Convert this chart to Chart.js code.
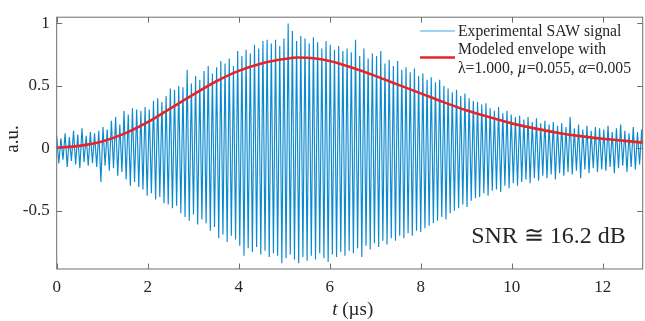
<!DOCTYPE html>
<html>
<head>
<meta charset="utf-8">
<script src="https://cdn.jsdelivr.net/npm/chart.js@4.4.1/dist/chart.umd.min.js"></script>
<style>
  body { margin: 0; background: #fff; }
  #wrap { width: 645px; height: 321px; }
</style>
</head>
<body>
<div id="wrap"><canvas id="myChart" width="645" height="321"></canvas></div>
<script>
// carrier period in µs
const period = 0.0925;

// positive and negative peak of every carrier cycle (a.u.)
const upperPeaks = [
    0.10, 0.08, 0.12, 0.09, 0.14, 0.11, 0.16, 0.10, 0.13, 0.12,
    0.14, 0.17, 0.15, 0.22, 0.25, 0.19, 0.30, 0.27, 0.32, 0.31,
    0.30, 0.33, 0.31, 0.38, 0.40, 0.37, 0.42, 0.48, 0.47, 0.50,
    0.49, 0.63, 0.52, 0.58, 0.55, 0.62, 0.66, 0.60, 0.65, 0.70,
    0.68, 0.72, 0.66, 0.78, 0.74, 0.79, 0.76, 0.83, 0.80, 0.86,
    0.87, 0.84, 0.87, 0.82, 0.88, 1.00, 0.94, 0.86, 0.90, 0.88,
    0.84, 0.89, 0.85, 0.80, 0.86, 0.83, 0.79, 0.82, 0.78, 0.80,
    0.77, 0.87, 0.74, 0.80, 0.72, 0.76, 0.74, 0.78, 0.68, 0.71,
    0.66, 0.70, 0.63, 0.65, 0.61, 0.64, 0.58, 0.60, 0.55, 0.57,
    0.53, 0.55, 0.50, 0.48, 0.45, 0.47, 0.42, 0.44, 0.40, 0.38,
    0.37, 0.35, 0.36, 0.32, 0.30, 0.33, 0.28, 0.30, 0.27, 0.25,
    0.26, 0.23, 0.25, 0.21, 0.24, 0.20, 0.22, 0.19, 0.21, 0.18,
    0.20, 0.17, 0.25, 0.16, 0.19, 0.15, 0.18, 0.14, 0.17, 0.16,
    0.15, 0.18, 0.13, 0.16, 0.19, 0.14, 0.12, 0.17, 0.13, 0.15
];
const lowerPeaks = [
    -0.12, -0.09, -0.15, -0.10, -0.13, -0.16, -0.11, -0.14, -0.12, -0.15,
    -0.27, -0.14, -0.18, -0.16, -0.22, -0.19, -0.25, -0.30, -0.27, -0.31,
    -0.33, -0.38, -0.36, -0.41, -0.39, -0.44, -0.45, -0.48, -0.46, -0.52,
    -0.55, -0.58, -0.53, -0.61, -0.57, -0.60, -0.66, -0.63, -0.72, -0.69,
    -0.75, -0.70, -0.73, -0.78, -0.86, -0.80, -0.83, -0.79, -0.85, -0.82,
    -0.87, -0.84, -0.86, -0.92, -0.88, -0.85, -0.89, -0.92, -0.87, -0.90,
    -0.86, -0.89, -0.84, -0.88, -0.91, -0.85, -0.87, -0.83, -0.86, -0.82,
    -0.84, -0.80, -0.87, -0.78, -0.81, -0.76, -0.79, -0.74, -0.77, -0.72,
    -0.74, -0.70, -0.72, -0.68, -0.70, -0.66, -0.67, -0.64, -0.62, -0.60,
    -0.58, -0.55, -0.57, -0.52, -0.50, -0.48, -0.45, -0.47, -0.42, -0.40,
    -0.39, -0.36, -0.38, -0.34, -0.33, -0.35, -0.30, -0.32, -0.28, -0.30,
    -0.27, -0.25, -0.28, -0.24, -0.26, -0.22, -0.24, -0.21, -0.25, -0.20,
    -0.22, -0.19, -0.21, -0.18, -0.24, -0.17, -0.20, -0.16, -0.19, -0.17,
    -0.18, -0.15, -0.20, -0.16, -0.14, -0.19, -0.15, -0.17, -0.13, -0.16
];

// modeled envelope (red)
const envTime = [0, 0.5, 1, 1.5, 2, 2.5, 3, 3.5, 4, 4.5, 5, 5.3, 5.5, 6, 6.5, 7, 7.5, 8, 8.5, 9, 9.5, 10, 10.5, 11, 11.5, 12, 12.5, 12.9];
const envelope = [0.005, 0.02, 0.055, 0.12, 0.21, 0.32, 0.43, 0.535, 0.62, 0.68, 0.715, 0.727, 0.725, 0.70, 0.645, 0.58, 0.51, 0.44, 0.37, 0.305, 0.25, 0.20, 0.16, 0.125, 0.098, 0.077, 0.06, 0.045];

const xTicks = [0, 2, 4, 6, 8, 10, 12];
const yTicks = [-0.5, 0, 0.5, 1];
const yTickLabels = ['-0.5', '0', '0.5', '1'];

const serif = '"Liberation Serif", "Times New Roman", serif';
const textColor = '#262626';

// zigzag przez kolejne maksima i minima
const signalPoints = [];
upperPeaks.forEach(function(v, i) {
    signalPoints.push({ x: i * period, y: v });
    signalPoints.push({ x: (i + 0.5) * period, y: lowerPeaks[i] });
});
const envPoints = envTime.map((t, i) => ({ x: t, y: envelope[i] }));

const framePlugin = {
    id: 'frame',
    afterDraw(chart) {
        const ctx = chart.ctx;
        const a = chart.chartArea;
        const xs = chart.scales.x, ys = chart.scales.y;
        ctx.save();
        ctx.strokeStyle = 'rgb(110,110,110)';
        ctx.lineWidth = 1;
        ctx.strokeRect(a.left, a.top, a.right - a.left, a.bottom - a.top);
        const tl = 5.5;
        ctx.beginPath();
        xTicks.forEach(function(v) {
            const px = Math.round(xs.getPixelForValue(v)) + 0.5;
            ctx.moveTo(px, a.bottom); ctx.lineTo(px, a.bottom - tl);
            ctx.moveTo(px, a.top); ctx.lineTo(px, a.top + tl);
        });
        yTicks.forEach(function(v) {
            const py = Math.round(ys.getPixelForValue(v)) + 0.5;
            ctx.moveTo(a.left, py); ctx.lineTo(a.left + tl, py);
            ctx.moveTo(a.right, py); ctx.lineTo(a.right - tl, py);
        });
        ctx.stroke();

        // axis titles
        ctx.fillStyle = textColor;
        ctx.textBaseline = 'middle';
        ctx.font = 'italic 19px ' + serif;
        const tW = ctx.measureText('t').width;
        ctx.font = '19px ' + serif;
        const restW = ctx.measureText(' (µs)').width;
        let x0 = (a.left + a.right) / 2 + 3 - (tW + restW) / 2;
        ctx.textAlign = 'left';
        ctx.font = 'italic 19px ' + serif;
        ctx.fillText('t', x0, 310);
        ctx.font = '19px ' + serif;
        ctx.fillText(' (µs)', x0 + tW, 310);

        ctx.save();
        ctx.translate(13, 139);
        ctx.rotate(-Math.PI / 2);
        ctx.textAlign = 'center';
        ctx.fillText('a.u.', 0, 0);
        ctx.restore();

        // legend
        ctx.lineWidth = 1.5;
        ctx.strokeStyle = 'rgb(125,200,240)';
        ctx.beginPath(); ctx.moveTo(420, 31); ctx.lineTo(455, 31); ctx.stroke();
        ctx.lineWidth = 2.6;
        ctx.strokeStyle = 'rgb(232,36,36)';
        ctx.beginPath(); ctx.moveTo(420, 57.5); ctx.lineTo(455, 57.5); ctx.stroke();

        ctx.textAlign = 'left';
        ctx.font = '15.7px ' + serif;
        ctx.fillText('Experimental SAW signal', 458, 31.5);
        ctx.fillText('Modeled envelope with', 458, 50);
        const parts = [['λ=1.000, ', false], ['µ', true], ['=0.055, ', false], ['α', true], ['=0.005', false]];
        let px = 458;
        parts.forEach(function(p) {
            ctx.font = (p[1] ? 'italic ' : '') + '15.7px ' + serif;
            ctx.fillText(p[0], px, 68.5);
            px += ctx.measureText(p[0]).width;
        });

        ctx.font = '24px ' + serif;
        ctx.textAlign = 'center';
        ctx.fillText('SNR ≅ 16.2 dB', 548.5, 237);
        ctx.restore();
    }
};

const ctx = document.getElementById('myChart').getContext('2d');
const myChart = new Chart(ctx, {
    type: 'line',
    data: {
        datasets: [{
            label: 'Modeled envelope',
            data: envPoints,
            borderColor: 'rgb(232,36,36)',
            borderWidth: 2.6,
            pointRadius: 0,
            cubicInterpolationMode: 'monotone',
            fill: false
        }, {
            label: 'Experimental SAW signal',
            data: signalPoints,
            borderColor: 'rgb(12,138,208)',
            borderWidth: 1.15,
            borderJoinStyle: 'bevel',
            pointRadius: 0,
            tension: 0,
            fill: false
        }]
    },
    options: {
        responsive: false,
        animation: false,
        devicePixelRatio: 1,
        layout: { padding: { top: 10.3, right: 2.3, left: 0, bottom: 0 } },
        plugins: { legend: { display: false }, tooltip: { enabled: false } },
        scales: {
            x: {
                type: 'linear',
                min: 0,
                max: 12.88,
                grid: { display: false, drawTicks: false },
                border: { display: false },
                afterBuildTicks: function(scale) { scale.ticks = xTicks.map(v => ({ value: v })); },
                afterFit: function(scale) { scale.height = 52; },
                ticks: { color: textColor, font: { family: serif, size: 17 }, padding: 8, maxRotation: 0 }
            },
            y: {
                type: 'linear',
                min: -0.966,
                max: 1.05,
                grid: { display: false, drawTicks: false },
                border: { display: false },
                afterBuildTicks: function(scale) { scale.ticks = yTicks.map(v => ({ value: v })); },
                afterFit: function(scale) { scale.width = 56.7; },
                ticks: {
                    color: textColor,
                    font: { family: serif, size: 17 },
                    padding: 7,
                    callback: function(value) { return yTickLabels[yTicks.indexOf(value)]; }
                }
            }
        }
    },
    plugins: [framePlugin]
});
</script>
</body>
</html>
